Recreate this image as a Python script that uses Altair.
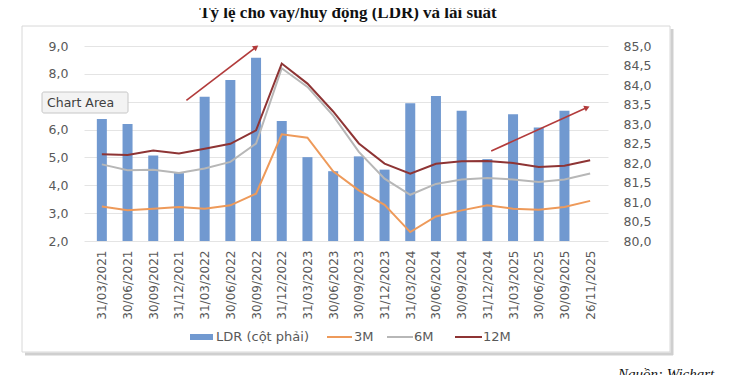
import math
import altair as alt
import pandas as pd

# ---------------- data ----------------
dates = ["31/03/2021", "30/06/2021", "30/09/2021", "31/12/2021", "31/03/2022",
         "30/06/2022", "30/09/2022", "31/12/2022", "31/03/2023", "30/06/2023",
         "30/09/2023", "31/12/2023", "31/03/2024", "30/06/2024", "30/09/2024",
         "31/12/2024", "31/03/2025", "30/06/2025", "30/09/2025", "26/11/2025"]
ldr = [83.13, 83.00, 82.19, 81.74, 83.70, 84.13, 84.70, 83.08, 82.15, 81.79,
       82.17, 81.83, 83.53, 83.72, 83.34, 82.10, 83.25, 82.91, 83.34, None]
rate_3m = [3.24, 3.10, 3.16, 3.22, 3.16, 3.28, 3.70, 5.83, 5.71, 4.50,
           3.82, 3.30, 2.32, 2.88, 3.10, 3.28, 3.16, 3.12, 3.22, 3.44]
rate_6m = [4.75, 4.54, 4.56, 4.44, 4.60, 4.84, 5.50, 8.20, 7.53, 6.50,
           5.20, 4.24, 3.66, 4.05, 4.21, 4.26, 4.21, 4.12, 4.21, 4.42]
rate_12m = [5.11, 5.09, 5.25, 5.14, 5.31, 5.49, 5.97, 8.37, 7.65, 6.65,
            5.50, 4.78, 4.42, 4.77, 4.86, 4.87, 4.80, 4.66, 4.70, 4.90]
series_names = ["LDR (cột phải)", "3M", "6M", "12M"]
left_ticks = [2, 3, 4, 5, 6, 7, 8, 9]
right_ticks = [80.0, 80.5, 81.0, 81.5, 82.0, 82.5, 83.0, 83.5, 84.0, 84.5, 85.0]
# trend arrows (category position, left-axis value)
arrow_x0 = [3.29, 15.15]
arrow_y0 = [7.05, 5.23]
arrow_x1 = [6.00, 18.88]
arrow_y1 = [8.96, 6.79]
title_text = "Tỷ lệ cho vay/huy động (LDR) và lãi suất"
source_text = "Nguồn: Wichart"

# ---------------- style ----------------
W, H = 524, 195
BLUE = "#7199d0"
ORANGE = "#ee9a5a"
GRAY = "#b7b7b7"
RED = "#8e3434"
ARROW = "#b23b3b"
LABEL = "#595959"
FONT = "DejaVu Sans"

n = len(dates)
idx = list(range(n))
bars_df = pd.DataFrame({"i": idx, "ldr": ldr}).dropna()
lines_df = pd.DataFrame({
    "i": idx * 3,
    "rate": rate_3m + rate_6m + rate_12m,
    "series": [series_names[1]] * n + [series_names[2]] * n + [series_names[3]] * n,
})

x_scale = alt.Scale(domain=[-0.5, n - 0.5], nice=False, zero=False)
yl_scale = alt.Scale(domain=[2, 9], nice=False, zero=False)
yr_scale = alt.Scale(domain=[80, 85], nice=False, zero=False)

label_expr = "[" + ",".join(f"'{d}'" for d in dates) + "][datum.value]"
x_axis = alt.Axis(values=idx, labelExpr=label_expr, labelAngle=270, grid=False,
                  ticks=False, domain=False, labelPadding=9, labelFontSize=12,
                  labelColor=LABEL, labelFont=FONT, labelFlush=False,
                  labelOverlap=False, title=None)
comma = "replace(format(datum.value, '.1f'), '.', ',')"
left_axis = alt.Axis(orient="left", values=left_ticks, labelExpr=comma, grid=True,
                     gridColor="#e4e4e4", gridWidth=1, ticks=False, domain=False,
                     labelPadding=16, labelFontSize=12.5, labelColor=LABEL,
                     labelFont=FONT, title=None)
right_axis = alt.Axis(orient="right", values=right_ticks, labelExpr=comma, grid=False,
                      ticks=False, domain=False, labelPadding=15, labelFontSize=12.5,
                      labelColor=LABEL, labelFont=FONT, title=None, labelAlign="left")

one = pd.DataFrame({"a": [0]})

# frame + shadow
shadow_r = alt.Chart(one).mark_rule(color="#cfcfcf", strokeWidth=3).encode(
    x=alt.value(588), y=alt.value(-17), y2=alt.value(309))
shadow_b = alt.Chart(one).mark_rule(color="#cfcfcf", strokeWidth=3).encode(
    x=alt.value(-59), x2=alt.value(589), y=alt.value(308))
frame = alt.Chart(one).mark_rect(fill="white", fillOpacity=0, stroke="#d8d8d8",
                                 strokeWidth=1).encode(
    x=alt.value(-62), x2=alt.value(586), y=alt.value(-20), y2=alt.value(306))

bars = alt.Chart(bars_df).mark_bar(color=BLUE, size=10).encode(
    x=alt.X("i:Q", scale=x_scale, axis=x_axis),
    y=alt.Y("ldr:Q", scale=yr_scale, axis=right_axis),
    y2=alt.datum(80),
)

lines = alt.Chart(lines_df).mark_line(strokeWidth=2).encode(
    x=alt.X("i:Q", scale=x_scale, axis=x_axis),
    y=alt.Y("rate:Q", scale=yl_scale, axis=left_axis),
    color=alt.Color("series:N", scale=alt.Scale(domain=series_names[1:],
                                                range=[ORANGE, GRAY, RED]),
                    legend=None),
    order=alt.Order("i:Q"),
)

# arrows
px_x = W / n
px_y = H / 7.0
angles = [math.degrees(math.atan2((arrow_x1[k] - arrow_x0[k]) * px_x,
                                  (arrow_y1[k] - arrow_y0[k]) * px_y))
          for k in range(len(arrow_x0))]
arrows_df = pd.DataFrame({"x0": arrow_x0, "y0": arrow_y0, "x1": arrow_x1,
                          "y1": arrow_y1, "ang": angles})
arrow_lines = alt.Chart(arrows_df).mark_rule(color=ARROW, strokeWidth=1.6).encode(
    x=alt.X("x0:Q", scale=x_scale, axis=x_axis), x2="x1:Q",
    y=alt.Y("y0:Q", scale=yl_scale, axis=None), y2="y1:Q")
arrow_heads = alt.Chart(arrows_df).mark_point(shape="triangle-up", filled=True,
                                              size=40, color=ARROW, opacity=1).encode(
    x=alt.X("x1:Q", scale=x_scale, axis=x_axis),
    y=alt.Y("y1:Q", scale=yl_scale, axis=None),
    angle=alt.Angle("ang:Q", scale=None))

# "Chart Area" tooltip box
ca_box = alt.Chart(one).mark_rect(fill="#f3f3f3", stroke="#c6c6c6", cornerRadius=2).encode(
    x=alt.value(-42), x2=alt.value(44), y=alt.value(46), y2=alt.value(67))
ca_text = alt.Chart(one).mark_text(text="Chart Area", align="left", baseline="middle",
                                   fontSize=12.5, font=FONT, color="#404040").encode(
    x=alt.value(-37), y=alt.value(57))

title = alt.Chart(one).mark_text(text=title_text, align="center", baseline="alphabetic",
                                 fontSize=17, fontWeight="bold", font="Liberation Serif",
                                 color="#111111").encode(
    x=alt.value(264), y=alt.value(-28))
source = alt.Chart(one).mark_text(text=source_text, align="left", baseline="alphabetic",
                                  fontSize=15, fontStyle="italic", font="Liberation Serif",
                                  color="#111111").encode(
    x=alt.value(534), y=alt.value(333))

# legend
leg_df = pd.DataFrame({
    "name": series_names,
    "col": [BLUE, ORANGE, GRAY, RED],
    "sx": [106, 243, 303, 371],
    "sx2": [129, 268, 329, 398],
    "tx": [132, 270, 330, 399],
})
leg_rect = alt.Chart(leg_df.iloc[[0]]).mark_rect().encode(
    x=alt.X("sx:Q", scale=None), x2="sx2:Q",
    y=alt.value(288), y2=alt.value(294),
    color=alt.Color("col:N", scale=None))
leg_lines = alt.Chart(leg_df.iloc[1:]).mark_rule(strokeWidth=2).encode(
    x=alt.X("sx:Q", scale=None), x2="sx2:Q", y=alt.value(291),
    color=alt.Color("col:N", scale=None))
leg_text = alt.Chart(leg_df).mark_text(align="left", baseline="middle", fontSize=13,
                                       font=FONT, color=LABEL).encode(
    x=alt.X("tx:Q", scale=None), y=alt.value(291), text="name:N")

chart = alt.layer(
    shadow_r, shadow_b, frame, bars, lines, arrow_lines, arrow_heads,
    ca_box, ca_text, title, source, leg_rect, leg_lines, leg_text,
).resolve_scale(y="independent").properties(
    width=W, height=H,
    autosize=alt.AutoSizeParams(type="none"),
    padding={"left": 76, "top": 38, "right": 134, "bottom": 140},
).configure_view(strokeWidth=0)

chart.save("out.html", embed_options={"renderer": "svg", "actions": False})
